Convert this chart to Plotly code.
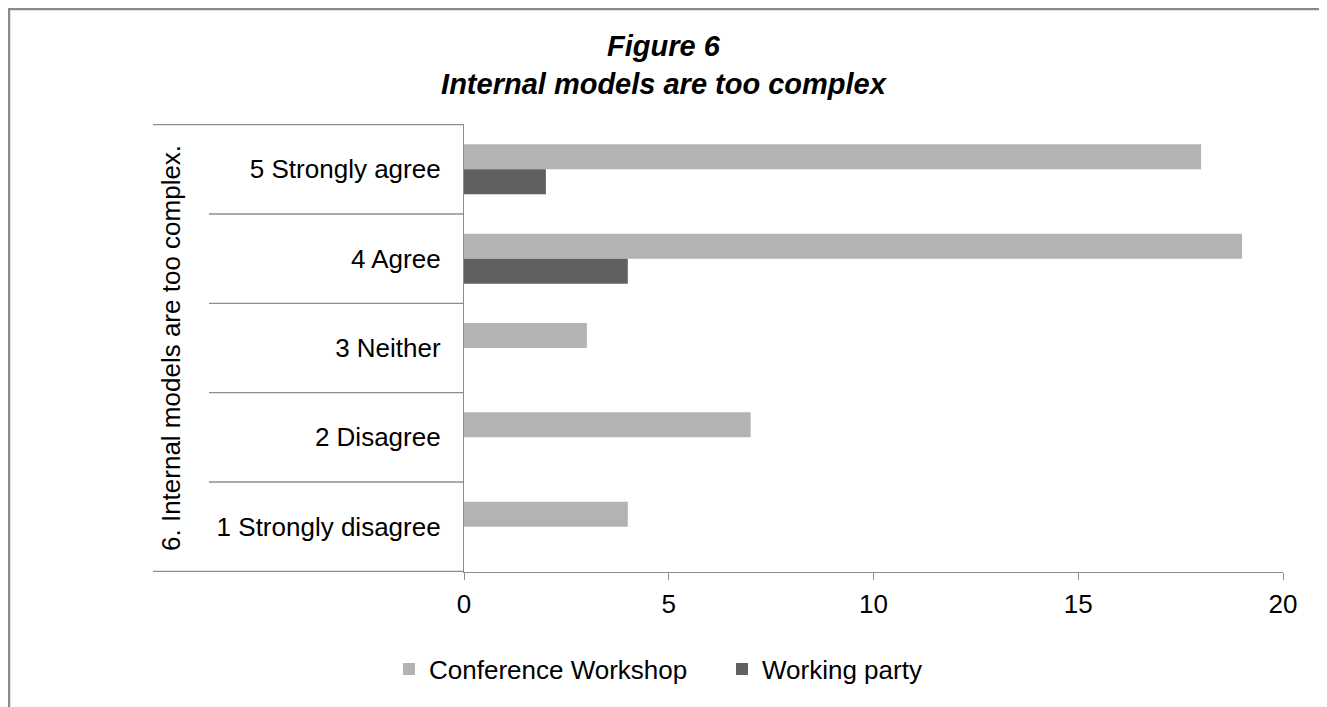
import plotly.graph_objects as go

categories = ["5 Strongly agree", "4 Agree", "3 Neither", "2 Disagree", "1 Strongly disagree"]
conference_workshop = [18, 19, 3, 7, 4]
working_party = [2, 4, 0, 0, 0]
x_ticks = [0, 5, 10, 15, 20]
title_line1 = "Figure 6"
title_line2 = "Internal models are too complex"
outer_label = "6. Internal models are too complex."

FONT = "Liberation Sans, Arial, sans-serif"
LINE = "#8c8c8c"
OFF = 8  # page body margin
W, H = 1327 - OFF, 707 - OFF
ML = 464 - OFF
MT = 124 - OFF
MR = W - (1283 - OFF)
MB = H - (572 - OFF)
PW = W - ML - MR
PH = H - MT - MB


def px_x(p):
    """screen x (reference pixels) -> paper fraction"""
    return (p - OFF - ML) / PW


def px_y(p):
    """screen y (reference pixels) -> paper fraction"""
    return (H - MB - (p - OFF)) / PH


fig = go.Figure()
fig.add_trace(go.Bar(name="Conference Workshop", y=categories, x=conference_workshop,
                     orientation="h", marker=dict(color="#b3b3b3", line=dict(width=0))))
fig.add_trace(go.Bar(name="Working party", y=categories, x=working_party,
                     orientation="h", marker=dict(color="#606060", line=dict(width=0))))

shapes = []
n = len(categories)
for k in range(n + 1):
    outer = k == 0 or k == n
    shapes.append(dict(type="line", xref="paper", yref="y",
                       x0=px_x(153 if outer else 209), x1=0,
                       y0=k - 0.5, y1=k - 0.5,
                       line=dict(color=LINE, width=1.3)))
# outer frame
shapes.append(dict(type="rect", xref="paper", yref="paper",
                   x0=px_x(OFF + 1), x1=px_x(1325), y0=px_y(740), y1=px_y(OFF + 1),
                   line=dict(color="#8a8a8a", width=2.5), fillcolor="rgba(0,0,0,0)"))

fig.update_layout(
    width=W, height=H,
    margin=dict(l=ML, r=MR, t=MT, b=MB, autoexpand=False),
    paper_bgcolor="white", plot_bgcolor="white",
    barmode="group", bargap=0.44, bargroupgap=0,
    font=dict(family=FONT, size=26, color="black"),
    title=dict(text="<b><i>" + title_line1 + "</i></b><br><b><i>" + title_line2 + "</i></b>",
               x=(663.5 - OFF) / W, xref="container", xanchor="center",
               y=1 - 48 / H, yref="container", yanchor="top",
               font=dict(family=FONT, size=29, color="black")),
    xaxis=dict(range=[0, 20], tickvals=x_ticks, showgrid=False, zeroline=False,
               showline=True, linecolor=LINE, linewidth=1.3,
               ticks="outside", ticklen=7, tickcolor=LINE, tickwidth=1.3,
               ticklabelstandoff=2, tickfont=dict(size=26), fixedrange=True),
    yaxis=dict(type="category", categoryarray=categories, categoryorder="array",
               autorange="reversed", showgrid=False, zeroline=False,
               showline=True, linecolor=LINE, linewidth=1.3,
               ticks="", ticklabelstandoff=17, tickfont=dict(size=26), fixedrange=True),
    legend=dict(orientation="h", x=px_x(389), xanchor="left", y=px_y(669), yanchor="middle",
                font=dict(size=26), bgcolor="rgba(0,0,0,0)",
                entrywidth=288, entrywidthmode="pixels"),
    shapes=shapes,
    annotations=[dict(text=outer_label, xref="paper", yref="paper",
                      x=px_x(171), y=0.5, xanchor="center", yanchor="middle",
                      textangle=-90, showarrow=False, font=dict(size=26))],
)

fig.write_html("out.html")
